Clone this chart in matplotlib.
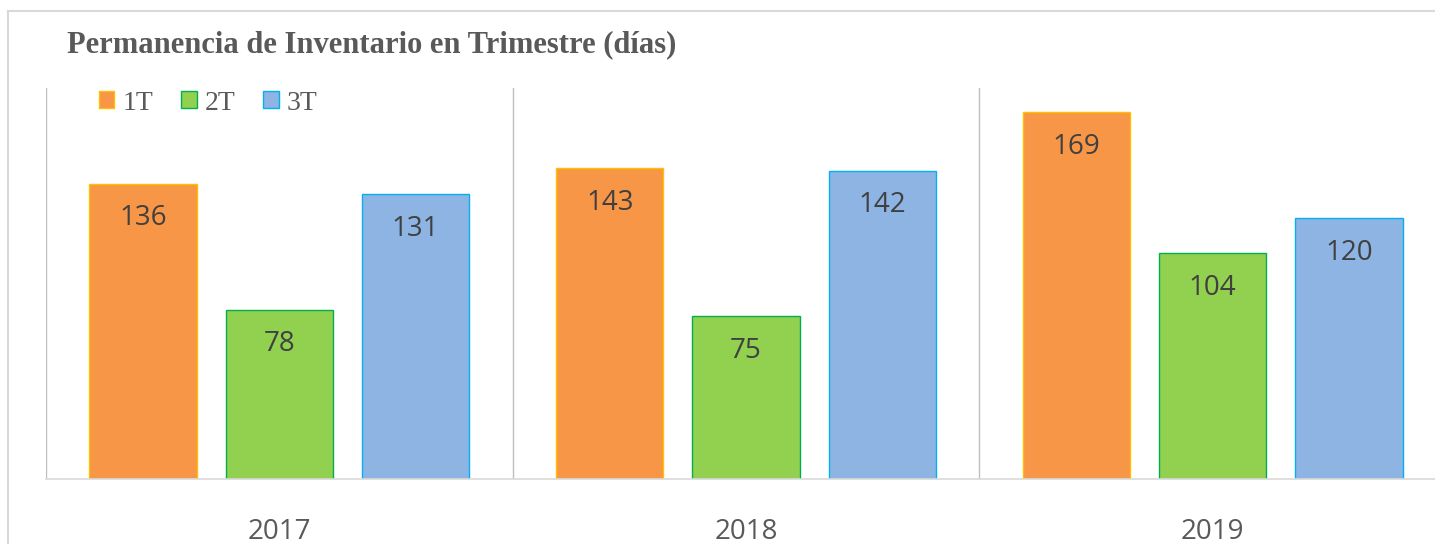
import numpy as np
import matplotlib.pyplot as plt
from matplotlib.lines import Line2D

# Inventory days per quarter and year
years = ["2017", "2018", "2019"]
quarters = ["1T", "2T", "3T"]
q1 = [136, 143, 169]
q2 = [78, 75, 104]
q3 = [131, 142, 120]

fills = ["#F79646", "#92D050", "#8DB4E2"]
edges = ["#FFC000", "#00B050", "#00B0F0"]

fig = plt.figure(figsize=(14.35, 5.44), dpi=100)

# light frame around the chart
fig.add_artist(Line2D([8 / 1435, 8 / 1435], [0, 1 - 11 / 544], color="#d9d9d9", lw=1.5))
fig.add_artist(Line2D([8 / 1435, 1], [1 - 11 / 544, 1 - 11 / 544], color="#d9d9d9", lw=1.5))

ax = fig.add_axes([46 / 1435, 65 / 544, 1400 / 1435, 391 / 544])

x = np.arange(len(years))
width = 0.23
gap = 0.292
for i, (vals, name) in enumerate(zip([q1, q2, q3], quarters)):
    pos = x + (i - 1) * gap
    bars = ax.bar(pos, vals, width, color=fills[i], edgecolor=edges[i],
                  linewidth=1, label=name)
    for b, v in zip(bars, vals):
        ax.text(b.get_x() + b.get_width() / 2, v - 16, str(v), ha="center",
                va="center", fontsize=20, family="Open Sans", color="#404040")

ax.set_xlim(-0.5, 2.5)
ax.set_ylim(0, 180)
ax.set_yticks([])
ax.set_xticks(x)
ax.set_xticklabels(years, fontsize=20, family="Open Sans", color="#595959")
ax.tick_params(axis="x", length=0, pad=28)

# group separators
for sep in [-0.5, 0.5, 1.5]:
    ax.axvline(sep, color="#bfbfbf", lw=1)

for side in ["top", "right", "left"]:
    ax.spines[side].set_visible(False)
ax.spines["bottom"].set_color("#d9d9d9")
ax.spines["bottom"].set_linewidth(1.2)

fig.text(67 / 1435, 1 - 45 / 544, "Permanencia de Inventario en Trimestre (días)",
         fontsize=22, family="Liberation Serif", fontweight="bold",
         color="#595959", va="center", ha="left")

leg = ax.legend(loc="upper left", bbox_to_anchor=(0.03, 1.022), ncol=3, frameon=False,
                prop={"family": "Liberation Serif", "size": 20},
                handlelength=0.55, handleheight=0.55, handletextpad=0.3,
                columnspacing=1.0, borderaxespad=0)
for t in leg.get_texts():
    t.set_color("#595959")

fig.savefig("out.png", dpi=100)
